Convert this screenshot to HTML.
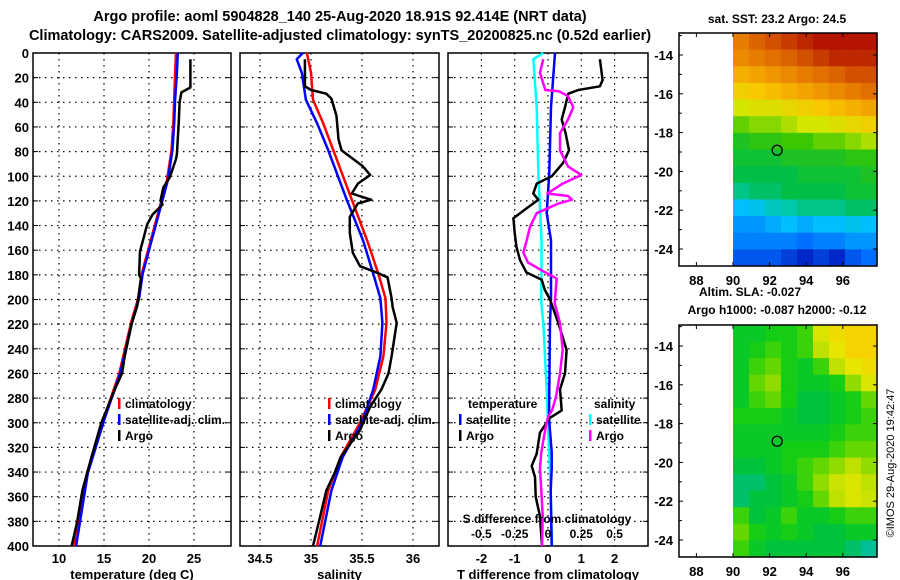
<!DOCTYPE html>
<html><head><meta charset="utf-8"><style>
body{margin:0;background:#fff;}
svg{display:block;font-family:"Liberation Sans",sans-serif;font-weight:bold;}
</style></head><body>
<svg id="c" width="900" height="580" viewBox="0 0 900 580" xmlns="http://www.w3.org/2000/svg">
<text x="340" y="21" font-size="14.5" text-anchor="middle">Argo profile: aoml 5904828_140 25-Aug-2020 18.91S 92.414E (NRT data)</text>
<text x="340" y="40" font-size="14.5" text-anchor="middle">Climatology: CARS2009. Satellite-adjusted climatology: synTS_20200825.nc (0.52d earlier)</text>
<text x="777" y="23" font-size="12" text-anchor="middle">sat. SST: 23.2 Argo: 24.5</text>
<text x="750" y="296" font-size="12" text-anchor="middle">Altim. SLA: -0.027</text>
<text x="777" y="314" font-size="12" text-anchor="middle">Argo h1000: -0.087 h2000: -0.12</text>
<text x="0" y="0" font-size="11" font-weight="normal" text-anchor="middle" transform="translate(894,463) rotate(-90)">©IMOS 29-Aug-2020 19:42:47</text>
<g id="g"></g>
</svg>
<script>
// ---- profile data ----
const tempClimDepth=[0,16,38,57,79,103,141,179,199,219,260,296,341,400];
const tempClimVal=[23.0,22.9,22.8,22.7,22.5,22.0,20.6,19.2,18.8,18.0,16.7,15.0,13.1,11.7];
const tempSatDepth=[0,16,38,57,79,103,141,179,199,219,260,296,341,400];
const tempSatVal=[23.2,23.1,22.9,22.8,22.6,22.1,20.7,19.3,18.9,18.1,16.8,15.1,13.2,11.9];
const tempArgoDepth=[5,28,32,40,57,82,86,101,109,119,123,131,139,150,161,180,183,194,205,219,246,260,273,300,328,355,381,400];
const tempArgoVal=[24.6,24.6,23.6,23.4,23.3,23.1,23.0,22.3,21.6,21.3,21.5,20.4,19.8,19.4,19.0,18.9,19.1,18.9,18.7,18.1,17.3,17.0,16.2,14.7,13.6,12.6,12.0,11.4];
const salClimDepth=[0,16,38,57,79,119,152,179,199,219,246,273,300,328,355,400];
const salClimVal=[34.96,35.0,35.02,35.12,35.22,35.40,35.55,35.66,35.73,35.74,35.71,35.63,35.48,35.29,35.17,35.06];
const salSatDepth=[0,5,16,38,57,79,119,152,179,199,219,246,273,300,328,355,400];
const salSatVal=[34.92,34.86,34.91,34.95,35.06,35.17,35.35,35.51,35.61,35.68,35.70,35.68,35.61,35.50,35.31,35.20,35.09];
const salArgoDepth=[5,27,30,33,37,51,70,79,84,92,99,106,114,117,119,122,133,146,162,173,178,182,199,206,219,246,260,273,287,306,328,341,355,376,400];
const salArgoVal=[34.94,34.94,35.0,35.15,35.2,35.25,35.27,35.3,35.38,35.51,35.58,35.46,35.40,35.51,35.59,35.46,35.38,35.38,35.41,35.48,35.64,35.75,35.79,35.80,35.84,35.79,35.76,35.69,35.58,35.48,35.29,35.23,35.15,35.09,35.02];
const dTSatDepth=[0,44,97,130,152,199,219,296,324,337,355,400];
const dTSatVal=[0.21,0.09,0.04,-0.04,0.09,0.09,0.06,0.03,0.11,0.11,0.08,0.11];
const dSSatDepth=[0,5,44,97,126,152,203,219,273,300,355,400];
const dSSatVal=[-0.035,-0.11,-0.085,-0.073,-0.06,-0.048,-0.05,-0.035,-0.01,0.0,0.02,0.03];
const dTArgoDepth=[5,22,27,30,33,44,54,65,79,89,100,106,114,119,127,134,146,157,168,178,184,192,200,219,241,260,273,290,296,308,325,335,344,360,376,400];
const dTArgoVal=[1.56,1.64,1.56,0.91,0.61,0.51,0.41,0.53,0.63,0.46,0.11,-0.34,-0.44,-0.29,-0.69,-1.04,-1.0,-0.95,-0.84,-0.65,-0.19,-0.1,0.06,0.31,0.56,0.51,0.36,0.41,0.06,-0.24,-0.34,-0.49,-0.39,-0.37,-0.24,-0.18];
const dSArgoDepth=[5,16,30,31,35,44,54,65,79,92,99,106,114,116,119,122,130,141,152,162,170,178,183,203,219,241,260,279,290,295,305,324,337,355,376,400];
const dSArgoVal=[-0.035,-0.06,-0.02,0.08,0.15,0.19,0.15,0.09,0.09,0.15,0.25,0.11,-0.005,0.15,0.18,0.08,-0.085,-0.135,-0.16,-0.185,-0.15,-0.02,0.065,0.05,0.09,0.11,0.09,0.06,0.03,0.0,-0.02,-0.05,-0.06,-0.05,-0.04,-0.045];
const depthTicks=[0,20,40,60,80,100,120,140,160,180,200,220,240,260,280,300,320,340,360,380,400];
const tempTicks=[10,15,20,25];
const salTicks=[34.5,35,35.5,36];
const dTTicks=[-2,-1,0,1,2];
const dSTicks=[-0.5,-0.25,0,0.25,0.5];
const dSTickLabels=["-0.5","-0.25","0","0.25","0.5"];
// ---- map data ----
const sstGrid=[
[25.0,25.2,25.3,25.4,25.5,25.6,25.6,25.6,25.6],
[24.9,25.0,25.1,25.2,25.3,25.4,25.5,25.5,25.5],
[24.6,24.7,24.8,24.9,25.0,25.1,25.2,25.3,25.3],
[24.3,24.4,24.5,24.6,24.7,24.8,24.9,25.0,25.1],
[24.0,24.1,24.1,24.2,24.3,24.4,24.5,24.6,24.7],
[23.7,23.8,23.8,23.9,24.0,24.0,24.1,24.2,24.3],
[23.4,23.5,23.5,23.6,23.6,23.7,23.7,23.8,23.9],
[23.3,23.3,23.3,23.4,23.4,23.4,23.4,23.5,23.5],
[23.2,23.2,23.2,23.2,23.3,23.3,23.3,23.3,23.4],
[23.0,23.1,23.1,23.2,23.2,23.2,23.2,23.3,23.3],
[22.5,22.6,22.8,22.9,23.0,23.0,23.0,23.1,23.1],
[22.3,22.3,22.4,22.5,22.4,22.5,22.5,22.6,22.5],
[22.2,22.2,22.2,22.2,22.1,22.2,22.2,22.3,22.3],
[22.0,22.0,22.0,21.9,21.8,21.9,21.8,22.0,22.1]];
const slaGrid=[
[-0.05,-0.05,-0.04,-0.04,-0.03,0.02,0.04,0.05,0.05],
[-0.05,-0.04,-0.03,-0.04,-0.03,0.0,0.03,0.05,0.05],
[-0.05,-0.03,-0.02,-0.04,-0.05,-0.03,0.0,0.03,0.04],
[-0.05,-0.02,-0.01,-0.04,-0.05,-0.05,-0.04,-0.01,0.02],
[-0.05,-0.03,-0.02,-0.04,-0.06,-0.06,-0.05,-0.04,-0.02],
[-0.04,-0.04,-0.04,-0.05,-0.06,-0.06,-0.05,-0.04,-0.03],
[-0.05,-0.05,-0.05,-0.05,-0.05,-0.05,-0.04,-0.03,-0.03],
[-0.05,-0.05,-0.05,-0.04,-0.04,-0.04,-0.03,-0.02,-0.02],
[-0.06,-0.06,-0.05,-0.04,-0.03,-0.02,-0.01,0.0,-0.01],
[-0.07,-0.07,-0.06,-0.05,-0.03,-0.01,0.01,0.02,0.0],
[-0.07,-0.06,-0.06,-0.05,-0.04,-0.02,0.0,0.02,0.01],
[-0.03,-0.06,-0.05,-0.03,-0.05,-0.05,-0.04,-0.03,-0.03],
[-0.02,-0.04,-0.05,-0.04,-0.05,-0.06,-0.06,-0.05,-0.05],
[-0.03,-0.05,-0.06,-0.06,-0.06,-0.06,-0.06,-0.07,-0.08]];
const lonTicks=[88,90,92,94,96];
const latTicks=[-14,-16,-18,-20,-22,-24];
const argoLon=92.414, argoLat=-18.91;

const NS='http://www.w3.org/2000/svg';
const G=document.getElementById('g');
function mk(tag,attrs,parent){const e=document.createElementNS(NS,tag);for(const k in attrs)e.setAttribute(k,attrs[k]);(parent||G).appendChild(e);return e;}
const Y0=53,Y1=546;
const yD=d=>Y0+d*(Y1-Y0)/400;

function panel(name,x0,x1,xs,ticks,labels,title){
  const g=mk('g',{});
  
  
  depthTicks.forEach(d=>{
    if(d>0&&d<400){const l=mk('line',{x1:x0,x2:x1,y1:yD(d),y2:yD(d),stroke:'#000','stroke-width':1.2,'stroke-dasharray':'1.5 4.5'},g);
    }
    mk('line',{x1:x0,x2:x0+5,y1:yD(d),y2:yD(d),stroke:'#000'},g);
    mk('line',{x1:x1-5,x2:x1,y1:yD(d),y2:yD(d),stroke:'#000'},g);
  });
  ticks.forEach((t,i)=>{
    const x=xs(t);
    const l=mk('line',{x1:x,x2:x,y1:Y0,y2:Y1,stroke:'#000','stroke-width':1.2,'stroke-dasharray':'1.5 4.5'},g);
    
    const tx=mk('text',{x:x,y:563,'font-size':13,'text-anchor':'middle'},g);tx.textContent=labels[i];
    
  });
  const r=mk('rect',{x:x0,y:Y0,width:x1-x0,height:Y1-Y0,fill:'none',stroke:'#000','stroke-width':1.5},g);
  
  const tt=mk('text',{x:(x0+x1)/2,y:579,'font-size':13,'text-anchor':'middle'},g);tt.textContent=title;
  
  return g;
}
function line(g,depths,vals,xs,color,w,nm){
  const p=depths.map((d,i)=>xs(vals[i]).toFixed(1)+','+yD(d).toFixed(1)).join(' ');
  const e=mk('polyline',{points:p,fill:'none',stroke:color,'stroke-width':w,'stroke-linejoin':'round'},g);
  
}
function legend(g,x,y,color,text,nm){
  const r=mk('rect',{x:x,y:y-10,width:2.5,height:11,fill:color},g);
  
  const t=mk('text',{x:x+7,y:y,'font-size':12},g);t.textContent=text;
  
}
// y labels
depthTicks.forEach(d=>{const t=mk('text',{x:29,y:yD(d)+5,'font-size':13,'text-anchor':'end'});t.textContent=d;
  });

// panel 1 temperature
const xT=v=>59+(v-10)*9;
const p1=panel('temperature',33,231,xT,tempTicks,tempTicks.map(String),'temperature (deg C)');
line(p1,tempClimDepth,tempClimVal,xT,'#ff0000',2.5,'temp-climatology-line');
line(p1,tempSatDepth,tempSatVal,xT,'#0000ff',2.5,'temp-satellite-line');
line(p1,tempArgoDepth,tempArgoVal,xT,'#000',2.5,'temp-argo-line');
legend(p1,118,408,'#ff0000','climatology','temp-legend-climatology');
legend(p1,118,424,'#0000ff','satellite-adj. clim.','temp-legend-satellite');
legend(p1,118,440,'#000','Argo','temp-legend-argo');

// panel 2 salinity
const xS=v=>311+(v-35)*102;
const p2=panel('salinity',240,439,xS,salTicks,salTicks.map(String),'salinity');
line(p2,salClimDepth,salClimVal,xS,'#ff0000',2.5,'sal-climatology-line');
line(p2,salSatDepth,salSatVal,xS,'#0000ff',2.5,'sal-satellite-line');
line(p2,salArgoDepth,salArgoVal,xS,'#000',2.5,'sal-argo-line');
legend(p2,328,408,'#ff0000','climatology','sal-legend-climatology');
legend(p2,328,424,'#0000ff','satellite-adj. clim.','sal-legend-satellite');
legend(p2,328,440,'#000','Argo','sal-legend-argo');

// panel 3 differences
const xdT=v=>548+v*33.3;
const xdS=v=>548+v*133.2;
const p3=panel('difference',448,648,xdT,dTTicks,dTTicks.map(String),'T difference from climatology');
line(p3,dSSatDepth,dSSatVal,xdS,'#00ffff',2.5,'dS-satellite-line');
line(p3,dTSatDepth,dTSatVal,xdT,'#0000ff',2.5,'dT-satellite-line');
line(p3,dTArgoDepth,dTArgoVal,xdT,'#000',2.5,'dT-argo-line');
line(p3,dSArgoDepth,dSArgoVal,xdS,'#ff00ff',2.5,'dS-argo-line');
{const t=mk('text',{x:468,y:408,'font-size':12},p3);t.textContent='temperature';
 const s=mk('text',{x:594,y:408,'font-size':12},p3);s.textContent='salinity';}
legend(p3,459,424,'#0000ff','satellite','diff-legend-t-satellite');
legend(p3,459,440,'#000','Argo','diff-legend-t-argo');
legend(p3,589,424,'#00ffff','satellite','diff-legend-s-satellite');
legend(p3,589,440,'#ff00ff','Argo','diff-legend-s-argo');
{const t=mk('text',{x:547,y:523,'font-size':12,'text-anchor':'middle'},p3);t.textContent='S difference from climatology';
 }
dSTicks.forEach((v,i)=>{const t=mk('text',{x:xdS(v),y:538,'font-size':12,'text-anchor':'middle'},p3);t.textContent=dSTickLabels[i];
  });

// ---- maps ----
function interp(stops,v){
  if(v<=stops[0][0])return stops[0][1];
  for(let i=1;i<stops.length;i++){if(v<=stops[i][0]){const a=stops[i-1],b=stops[i];const f=(v-a[0])/(b[0]-a[0]);
    const c=a[1].map((x,k)=>Math.round(x+(b[1][k]-x)*f));return c;}}
  return stops[stops.length-1][1];
}
const sstStops=[[21.8,[0,40,200]],[22.1,[0,110,255]],[22.5,[0,190,255]],[22.9,[0,200,170]],[23.2,[0,190,70]],[23.6,[60,200,0]],[24.0,[210,230,0]],[24.4,[250,200,0]],[24.8,[240,150,0]],[25.2,[220,100,0]],[25.6,[180,20,0]]];
const slaStops=[[-0.08,[0,190,150]],[-0.06,[0,195,60]],[-0.04,[20,205,20]],[-0.02,[100,215,0]],[0.0,[190,225,0]],[0.03,[230,230,0]],[0.05,[245,210,0]]];
function map(name,top,bot,latTop,latPerPx,grid,stops){
  const g=mk('g',{});
  
  const X0=679,X1=877;
  const xL=lon=>733+(lon-90)*18.3;
  const yL=lat=>top+(latTop-lat)*latPerPx;
  const latBot=latTop-(bot-top)/latPerPx, lonMax=90+(X1-733)/18.3;
  const nr=grid.length,nc=grid[0].length;
  for(let r=0;r<nr;r++)for(let c=0;c<nc;c++){
    const la0=latTop-(latTop-latBot)*r/nr, la1=latTop-(latTop-latBot)*(r+1)/nr;
    const lo0=90+(lonMax-90)*c/nc, lo1=90+(lonMax-90)*(c+1)/nc;
    const col=interp(stops,grid[r][c]);
    const e=mk('rect',{x:xL(lo0),y:yL(la0),width:xL(lo1)-xL(lo0)+0.6,height:yL(la1)-yL(la0)+0.6,fill:'rgb('+col.join(',')+')'},g);
    
  }
  const fr=mk('rect',{x:X0,y:top,width:X1-X0,height:bot-top,fill:'none',stroke:'#000','stroke-width':1.5},g);
  
  latTicks.forEach(la=>{const y=yL(la);mk('line',{x1:X0,x2:X0+4,y1:y,y2:y,stroke:'#000'},g);mk('line',{x1:X1-4,x2:X1,y1:y,y2:y,stroke:'#000'},g);
    const t=mk('text',{x:X0-6,y:y+5,'font-size':13,'text-anchor':'end'},g);t.textContent=la;
    });
  [-13,-15,-17,-19,-21,-23].forEach(la=>{const y=yL(la);mk('line',{x1:X0,x2:X0+3,y1:y,y2:y,stroke:'#000'},g);});
  lonTicks.forEach(lo=>{const x=xL(lo);mk('line',{x1:x,x2:x,y1:top,y2:top+4,stroke:'#000'},g);mk('line',{x1:x,x2:x,y1:bot-4,y2:bot,stroke:'#000'},g);
    const t=mk('text',{x:x,y:bot+19,'font-size':13,'text-anchor':'middle'},g);t.textContent=lo;
    });
  const m=mk('circle',{cx:xL(argoLon),cy:yL(argoLat),r:5,fill:'none',stroke:'#000','stroke-width':1.3},g);
  
}
map('sst-map',33,266,-14+22/19.4,19.4,sstGrid,sstStops);
map('sla-map',325,557,-14+21/19.4,19.4,slaGrid,slaStops);
</script>
</body></html>
